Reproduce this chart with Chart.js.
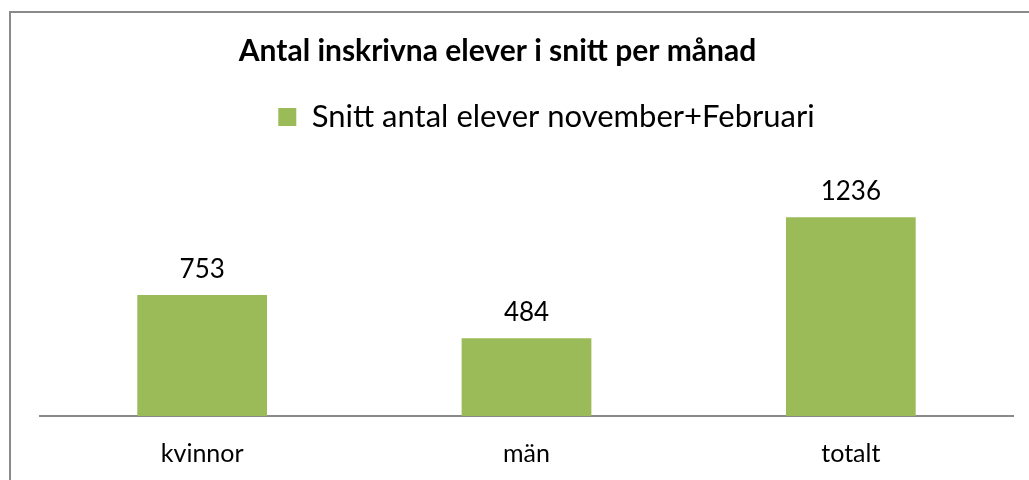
<!DOCTYPE html>
<html><head><meta charset="utf-8">
<script src="https://cdn.jsdelivr.net/npm/chart.js@4.4.1/dist/chart.umd.min.js"></script>
<style>html,body{margin:0;padding:0;background:#fff;}#wrap{width:1029px;height:480px;position:relative;}</style>
</head><body><div id="wrap"><canvas id="c" width="1029" height="480"></canvas></div>
<script>
const categories = ['kvinnor', 'män', 'totalt'];
const seriesLabel = 'Snitt antal elever november+Februari';
const values = [753, 484, 1236];
const chartTitle = 'Antal inskrivna elever i snitt per månad';
const yMin = 0;
const yMax = 1400;

const FONT = 'Lato, "Open Sans", sans-serif';
const GREEN = '#9BBB59';

const framePlugin = {
  id: 'frame',
  beforeDraw(chart) {
    const ctx = chart.ctx;
    ctx.save();
    ctx.fillStyle = '#fff';
    ctx.fillRect(0, 0, chart.width, chart.height);
    ctx.strokeStyle = '#8a8a8a';
    ctx.lineWidth = 2;
    ctx.strokeRect(10, 12, 1200, 600);
    ctx.restore();
  }
};

const spacingPlugin = {
  id: 'spacing',
  beforeLayout(chart) {
    const lg = chart.legend;
    if (lg && !lg._wrapped) {
      const orig = lg.fit;
      lg.fit = function () { orig.call(this); this.height += 48.5; };
      lg._wrapped = true;
    }
  },
  afterLayout(chart) {
    const t = chart.titleBlock;
    if (t) { t.left -= 29; t.right -= 29; }
    const lg = chart.legend;
    if (lg) { lg.left += 20; lg.right += 20; }
  }
};

const valueLabels = {
  id: 'valueLabels',
  afterDatasetsDraw(chart) {
    const ctx = chart.ctx;
    const meta = chart.getDatasetMeta(0);
    const data = chart.data.datasets[0].data;
    ctx.save();
    ctx.font = '26px ' + FONT;
    ctx.fillStyle = '#000';
    ctx.textAlign = 'center';
    ctx.textBaseline = 'alphabetic';
    meta.data.forEach((bar, i) => {
      ctx.fillText(String(data[i]), bar.x, bar.y - 17);
    });
    ctx.restore();
  }
};

new Chart(document.getElementById('c'), {
  type: 'bar',
  data: {
    labels: categories,
    datasets: [{
      label: seriesLabel,
      data: values,
      backgroundColor: GREEN,
      borderWidth: 0,
      barPercentage: 0.4,
      categoryPercentage: 1.0
    }]
  },
  options: {
    responsive: false,
    animation: false,
    devicePixelRatio: 1,
    layout: { padding: { left: 40, right: 16, top: 0, bottom: 0 } },
    plugins: {
      title: {
        display: true,
        text: chartTitle,
        color: '#000',
        font: { family: FONT, size: 30, weight: 'bold', lineHeight: 1.2 },
        padding: { top: 33, bottom: 10 }
      },
      legend: {
        display: true,
        position: 'top',
        labels: {
          color: '#000',
          font: { family: FONT, size: 31 },
          boxWidth: 18,
          boxHeight: 18,
          padding: 22.5
        }
      },
      tooltip: { enabled: false }
    },
    scales: {
      x: {
        grid: { display: false, drawTicks: false },
        border: { display: true, color: '#8a8a8a', width: 2 },
        ticks: { color: '#000', font: { family: FONT, size: 25 }, padding: 23 },
        afterFit(scale) { scale.height = 64; }
      },
      y: {
        display: false,
        min: yMin,
        max: yMax
      }
    }
  },
  plugins: [framePlugin, spacingPlugin, valueLabels]
});
</script>
</body></html>
